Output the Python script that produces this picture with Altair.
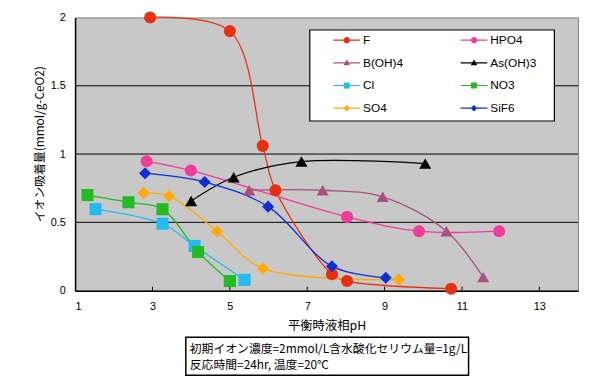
import altair as alt
import pandas as pd

# ---------------- data ----------------
ions = ["F", "HPO4", "B(OH)4", "As(OH)3", "Cl", "NO3", "SO4", "SiF6"]
colors = ["#e8300e", "#f23c9c", "#a8507f", "#000000", "#22bbee", "#22bb22", "#ffaa00", "#0c2fd6"]

F_ph = [2.94, 5.0, 5.85, 6.18, 7.64, 8.03, 10.72]
F_ads = [2.0, 1.9, 1.06, 0.735, 0.12, 0.07, 0.014]
HPO4_ph = [2.85, 3.99, 8.03, 9.89, 11.96]
HPO4_ads = [0.947, 0.88, 0.54, 0.435, 0.435]
BOH4_ph = [5.5, 7.4, 8.95, 10.6, 11.55]
BOH4_ads = [0.735, 0.735, 0.687, 0.435, 0.099]
AsOH3_ph = [4.0, 5.1, 6.85, 10.05]
AsOH3_ads = [0.656, 0.83, 0.945, 0.93]
Cl_ph = [1.53, 3.26, 4.09, 5.38]
Cl_ads = [0.596, 0.49, 0.327, 0.079]
NO3_ph = [1.32, 2.38, 3.26, 4.18, 5.0]
NO3_ads = [0.70, 0.647, 0.596, 0.283, 0.07]
SO4_ph = [2.77, 3.43, 4.67, 5.85, 9.37]
SO4_ads = [0.716, 0.692, 0.435, 0.163, 0.081]
SiF6_ph = [2.81, 4.35, 5.99, 7.64, 9.03]
SiF6_ads = [0.86, 0.795, 0.615, 0.178, 0.094]

x_ticks = [1, 3, 5, 7, 9, 11, 13]
y_ticks = [0, 0.5, 1, 1.5, 2]
grid_vals = [0.5, 1.0, 1.5]

x_title = "平衡時液相pH"
y_title = "イオン吸着量(mmol/g-CeO2)"
note_lines = ["初期イオン濃度=2mmol/L含水酸化セリウム量=1g/L", "反応時間=24hr, 温度=20℃"]

# ---------------- styles ----------------
markers = ["circle", "circle", "triangle-up", "triangle-up", "square", "square", "diamond", "diamond"]
marker_sizes = [150, 150, 150, 140, 175, 175, 175, 155]

line_part = "M-1.35,-0.06H1.35V0.06H-1.35Z"
p_circle = "M-0.32,0A0.32,0.32 0 1,1 0.32,0A0.32,0.32 0 1,1 -0.32,0Z"
p_tri = "M0,-0.33L0.33,0.25H-0.33Z"
p_square = "M-0.3,-0.3H0.3V0.3H-0.3Z"
p_diamond = "M0,-0.33L0.33,0L0,0.33L-0.33,0Z"
legend_paths = [line_part + p for p in [p_circle, p_circle, p_tri, p_tri, p_square, p_square, p_diamond, p_diamond]]

series = [
    ("F", F_ph, F_ads), ("HPO4", HPO4_ph, HPO4_ads), ("B(OH)4", BOH4_ph, BOH4_ads),
    ("As(OH)3", AsOH3_ph, AsOH3_ads), ("Cl", Cl_ph, Cl_ads), ("NO3", NO3_ph, NO3_ads),
    ("SO4", SO4_ph, SO4_ads), ("SiF6", SiF6_ph, SiF6_ads),
]
rows = []
for k, (name, xs, ys) in enumerate(series):
    for xv, yv in zip(xs, ys):
        rows.append({"ion": name, "order": k, "ph": xv, "ads": yv})
df = pd.DataFrame(rows)

# legend is laid out column by column: reorder so it reads row by row (2 columns)
leg_idx = [0, 2, 4, 6, 1, 3, 5, 7]
leg_domain = [ions[i] for i in leg_idx]
leg_colors = [colors[i] for i in leg_idx]
leg_paths = [legend_paths[i] for i in leg_idx]

W, H = 510, 277
xscale = alt.Scale(domain=[1, 14], nice=False, zero=False)
yscale = alt.Scale(domain=[0, 2], nice=False, zero=False)

x_axis = alt.Axis(
    values=x_ticks, grid=False, ticks=False, tickSize=0, labelPadding=10,
    labelFont="Liberation Sans", labelFontSize=11, labelColor="black",
    domainColor="black", domainWidth=1.5,
    title=x_title, titleFont="Noto Sans CJK JP", titleFontSize=12.5, titleFontWeight="normal",
    titleColor="black", titleY=35, titleBaseline="middle")
y_axis = alt.Axis(
    values=y_ticks, format="~g", grid=False, ticks=False, tickSize=0, labelPadding=10,
    labelFont="Liberation Sans", labelFontSize=11, labelColor="black",
    domainColor="black", domainWidth=1.5,
    title=y_title, titleFont="Noto Sans CJK JP", titleFontSize=12, titleFontWeight="normal",
    titleColor="black", titleX=-36, titleY=128, titleBaseline="middle", titleAngle=-90)
X = alt.X("ph:Q", scale=xscale, axis=x_axis)
Y = alt.Y("ads:Q", scale=yscale, axis=y_axis)

cscale = alt.Scale(domain=ions, range=colors)

grid = alt.Chart(pd.DataFrame({"ads": grid_vals})).mark_rule(color="black", strokeWidth=1).encode(y=Y)

xticks_in = alt.Chart(pd.DataFrame({"ph": x_ticks[1:]})).mark_rule(color="black", strokeWidth=1).encode(
    x=X, y=alt.value(H - 4), y2=alt.value(H))

lines = alt.Chart(df).mark_line(interpolate="catmull-rom", strokeWidth=1.3).encode(
    x=X, y=Y,
    color=alt.Color("ion:N", scale=cscale, legend=None),
    detail="ion:N",
    order=alt.Order("ph:Q"))

points = alt.Chart(df).mark_point(filled=True, opacity=1).encode(
    x=X, y=Y,
    color=alt.Color("ion:N", scale=cscale, legend=None),
    shape=alt.Shape("ion:N", scale=alt.Scale(domain=ions, range=markers), legend=None),
    size=alt.Size("ion:N", scale=alt.Scale(domain=ions, range=marker_sizes), legend=None),
    order=alt.Order("order:Q"))

legend_box = alt.Chart(pd.DataFrame({"a": [0]})).mark_rect(
    fill="white", stroke="black", strokeWidth=1.2).encode(
    x=alt.value(238), x2=alt.value(486), y=alt.value(12.7), y2=alt.value(105))

leg = dict(title=None, orient="none", legendX=265.5, legendY=13, columns=2,
           columnPadding=57, rowPadding=7, padding=0, symbolSize=400,
           symbolStrokeWidth=0, symbolOpacity=1, labelOffset=6.5,
           labelFont="Liberation Sans", labelFontSize=12, labelColor="black",
           labelLimit=0)
legend_layer = alt.Chart(df).mark_point(filled=True, opacity=1).encode(
    x=X, y=Y,
    color=alt.Color("ion:N", scale=alt.Scale(domain=leg_domain, range=leg_colors), legend=alt.Legend(**leg)),
    shape=alt.Shape("ion:N", scale=alt.Scale(domain=leg_domain, range=leg_paths), legend=alt.Legend(**leg)),
).transform_filter("false")

note_box = alt.Chart(pd.DataFrame({"a": [0]})).mark_rect(
    fill="white", stroke="black", strokeWidth=1.5).encode(
    x=alt.value(112.3), x2=alt.value(399), y=alt.value(324.3), y2=alt.value(362.7))
note_text = alt.Chart(pd.DataFrame({"a": [0]})).mark_text(
    align="left", baseline="middle", font="Noto Sans CJK JP", fontSize=12, lineHeight=16,
    color="black").encode(
    x=alt.value(116.3), y=alt.value(336), text=alt.value(note_lines))

chart = alt.layer(grid, xticks_in, lines, points, legend_box, legend_layer, note_box, note_text).resolve_scale(
    color="independent", shape="independent", size="independent"
).properties(
    width=W, height=H,
    autosize=alt.AutoSizeParams(type="none"),
    padding={"left": 68, "top": 7, "right": 3, "bottom": 87},
    background="white",
).configure_view(fill="#c8c8c8", stroke="#808080", strokeWidth=1)

chart.save("out.html", embed_options={"renderer": "svg", "actions": False})
